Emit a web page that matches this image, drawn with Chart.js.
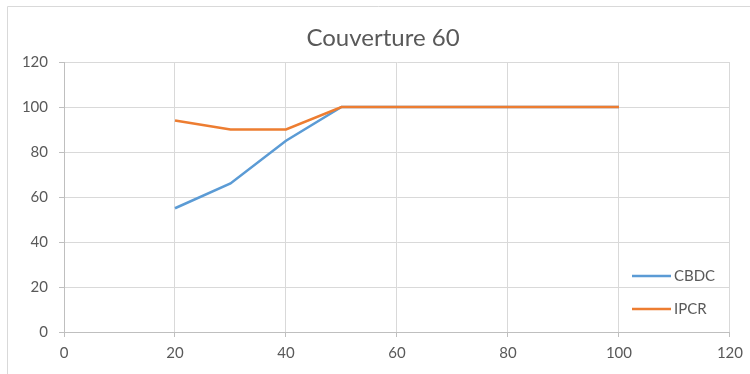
<!DOCTYPE html>
<html>
<head>
<meta charset="utf-8">
<script src="https://cdn.jsdelivr.net/npm/chart.js@4"></script>
<style>
  html, body { margin: 0; padding: 0; background: #fff; }
  #wrap { width: 750px; height: 374px; }
</style>
</head>
<body>
<div id="wrap"><canvas id="c" width="750" height="374"></canvas></div>
<script>
// Coverage values per threshold
const titleText = 'Couverture 60';
const xValues = [20, 30, 40, 50, 60, 70, 80, 90, 100];
const cbdc = [55, 66, 85, 100, 100, 100, 100, 100, 100];
const ipcr = [94, 90, 90, 100, 100, 100, 100, 100, 100];
const seriesNames = ['CBDC', 'IPCR'];
const seriesColors = ['#5b9bd5', '#ed7d31'];

const FONT = 'Lato, "Liberation Sans", sans-serif';
const TEXT = '#595959';
const GRID = '#d9d9d9';
const AXIS = '#bfbfbf';

const toPoints = (ys) => xValues.map((x, i) => ({ x: x, y: ys[i] }));

// Frame, title and legend drawn on top of the chart
const decor = {
  id: 'decor',
  afterDraw(chart) {
    const ctx = chart.ctx;
    ctx.save();
    ctx.strokeStyle = GRID;
    ctx.lineWidth = 1;
    ctx.beginPath();
    ctx.moveTo(7.5, 374);
    ctx.lineTo(7.5, 6.5);
    ctx.lineTo(750, 6.5);
    ctx.stroke();

    ctx.fillStyle = TEXT;
    ctx.font = '24px ' + FONT;
    ctx.textAlign = 'center';
    ctx.textBaseline = 'middle';
    ctx.fillText(titleText, 383, 38);

    const rows = [276, 309];
    seriesNames.forEach((name, i) => {
      const y = rows[i];
      ctx.strokeStyle = seriesColors[i];
      ctx.lineWidth = 2.5;
      ctx.beginPath();
      ctx.moveTo(632, y);
      ctx.lineTo(671, y);
      ctx.stroke();
      ctx.fillStyle = TEXT;
      ctx.font = '15px ' + FONT;
      ctx.textAlign = 'left';
      ctx.textBaseline = 'middle';
      ctx.fillText(name, 674, y);
    });
    ctx.restore();
  }
};

new Chart(document.getElementById('c'), {
  type: 'line',
  data: {
    datasets: [
      { label: seriesNames[0], data: toPoints(cbdc), borderColor: seriesColors[0], backgroundColor: seriesColors[0], order: 1 },
      { label: seriesNames[1], data: toPoints(ipcr), borderColor: seriesColors[1], backgroundColor: seriesColors[1], order: 0 }
    ]
  },
  options: {
    responsive: false,
    animation: false,
    layout: { padding: { top: 62, right: 16, bottom: 0, left: 0 } },
    elements: {
      line: { borderWidth: 2.5, tension: 0 },
      point: { radius: 0, hoverRadius: 0 }
    },
    plugins: {
      legend: { display: false },
      title: { display: false },
      tooltip: { enabled: false }
    },
    scales: {
      x: {
        type: 'linear',
        min: 0, max: 120,
        ticks: { stepSize: 20, color: TEXT, font: { family: FONT, size: 15 }, padding: 7, maxRotation: 0 },
        grid: { color: GRID, tickColor: AXIS, tickLength: 5 },
        border: { color: AXIS },
        afterFit(s) { s.height = 42; }
      },
      y: {
        min: 0, max: 120,
        ticks: { stepSize: 20, color: TEXT, font: { family: FONT, size: 15 }, padding: 11 },
        grid: { color: GRID, tickColor: AXIS, tickLength: 5 },
        border: { color: AXIS },
        afterFit(s) { s.width = 64; }
      }
    }
  },
  plugins: [decor]
});
</script>
</body>
</html>
